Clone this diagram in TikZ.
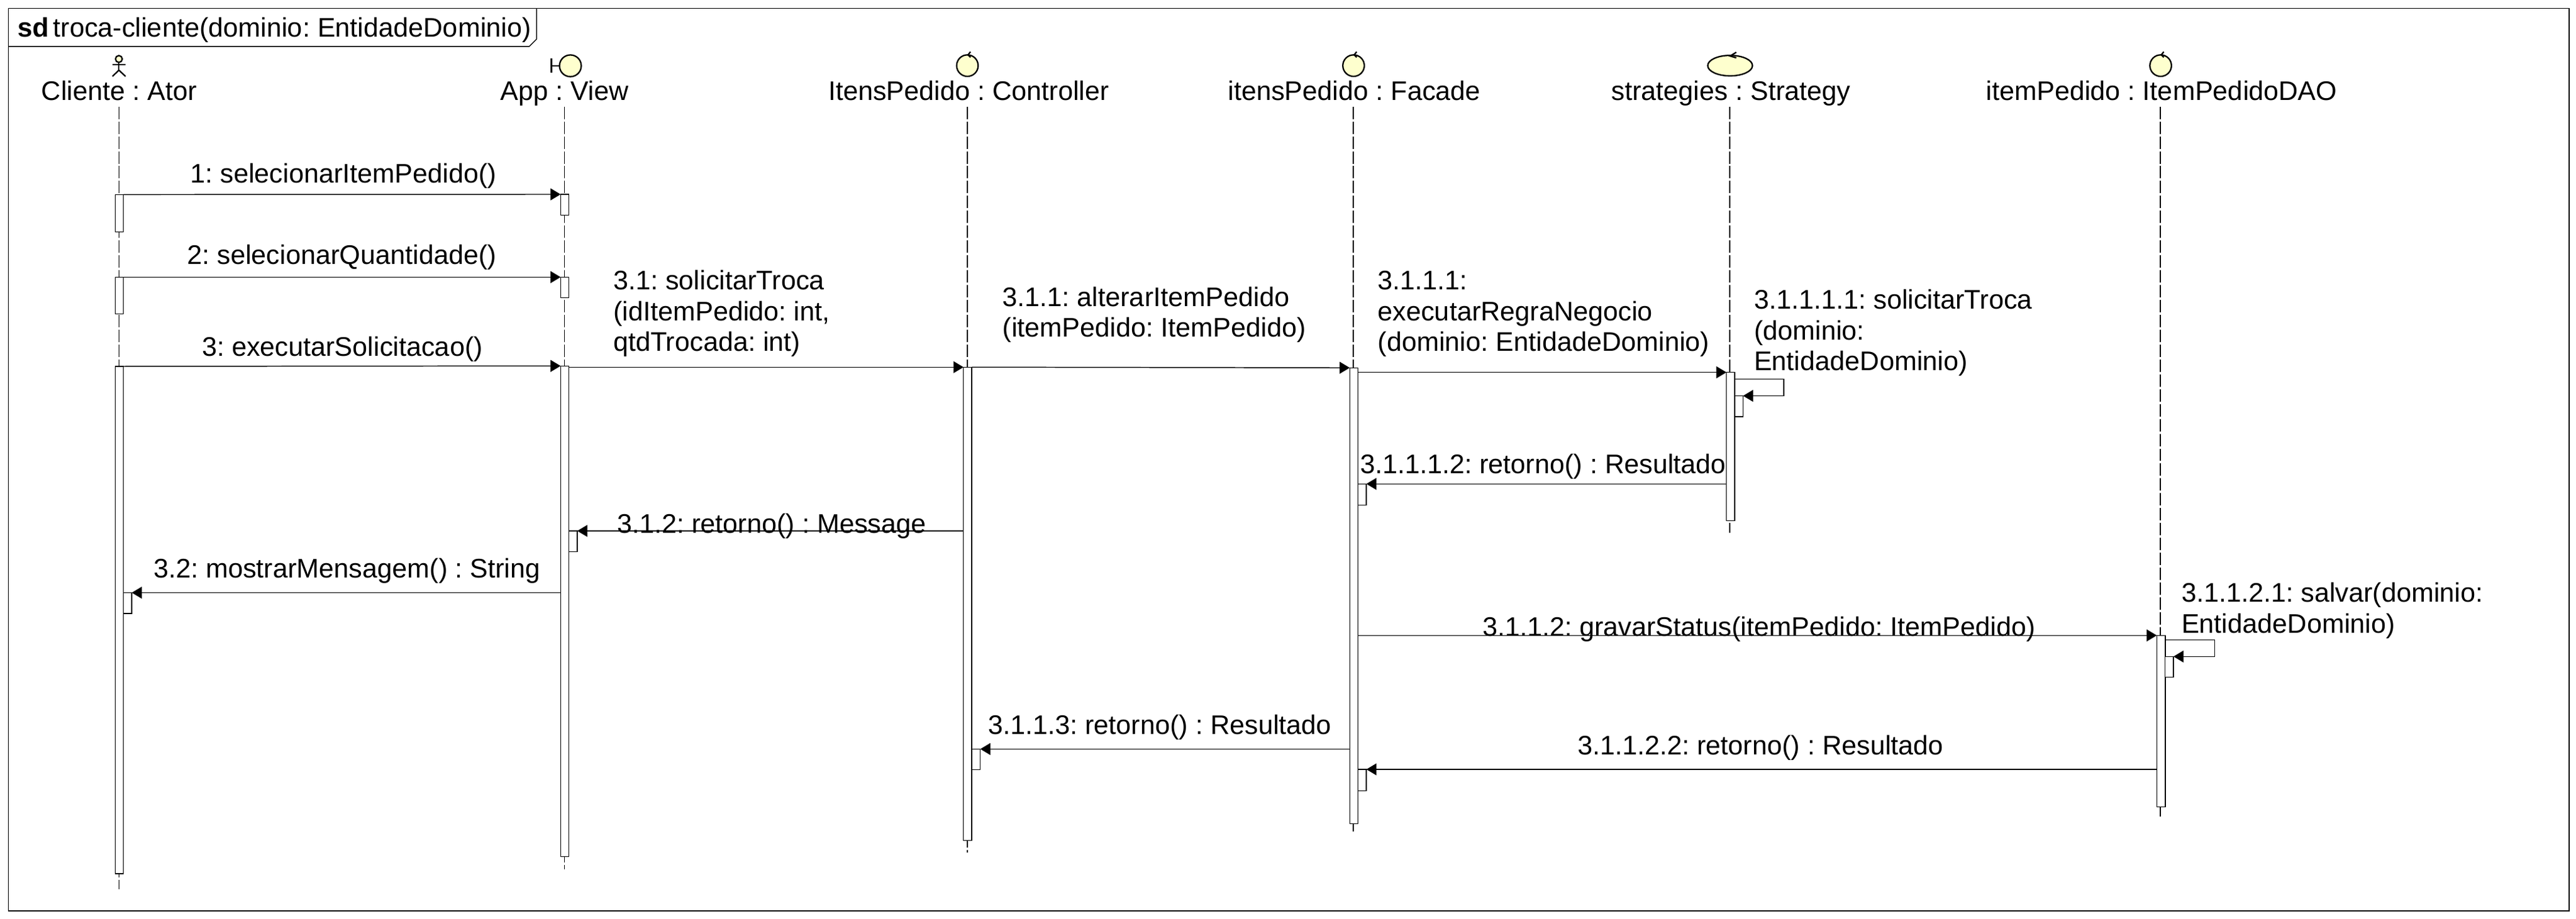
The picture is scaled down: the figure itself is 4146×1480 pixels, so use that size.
\documentclass[tikz,border=0pt]{standalone}
\usepackage{fontspec}
\setmainfont{Liberation Sans}
\usetikzlibrary{arrows.meta,calc,shapes.geometric}
\definecolor{iconfill}{HTML}{FEFFCE}
\tikzset{
  lbl/.style={anchor=base west,inner sep=0,outer sep=0,align=left,font=\fontsize{12.3}{14.1}\selectfont\frenchspacing},
  hdr/.style={anchor=base,inner sep=0,outer sep=0,font=\fontsize{12.3}{14.1}\selectfont\frenchspacing},
  bar/.style={draw,fill=white,anchor=north west,inner sep=0,outer sep=0,minimum width=0.134cm},
  lifeline/.style={line width=0.38pt,dash pattern=on 5.68pt off 1.13pt},
  msg/.style={line width=0.42pt,-{Triangle[length=4.6pt,width=5.4pt]}},
  icon/.style={draw,fill=iconfill,line width=0.65pt,inner sep=0,outer sep=0},
  iconline/.style={line width=0.65pt}
}
\begin{document}
\begin{tikzpicture}[x=0.01cm,y=-0.01cm,line width=0.42pt]
\useasboundingbox (0,0) rectangle (4146,1480);
% frame
\node[draw,anchor=north west,inner sep=0,outer sep=0,minimum width=41.192cm,minimum height=14.53cm] (frame) at (13.5,13.3) {};
\coordinate (tab1) at (13.5,75);
\coordinate (tab2) at (851.6,75);
\coordinate (tab3) at (863.6,63);
\coordinate (tab4) at (863.6,13.3);
\path[draw] (tab1) -- (tab2) -- (tab3) -- (tab4);
\node[lbl,font=\fontsize{12.3}{14.1}\selectfont\bfseries] (sd) at (28,59.3) {sd};
\node[lbl] (title) at (85.6,59.3) {troca-cliente(dominio: EntidadeDominio)};
% lifelines
\coordinate (ator top) at (191.5,171.7);
\coordinate (ator end) at (191.5,1431.7);
\coordinate (view top) at (908.5,171.7);
\coordinate (view end) at (908.5,1400);
\coordinate (ctrl top) at (1557,171.7);
\coordinate (ctrl end) at (1557,1372.7);
\coordinate (fac top) at (2178,171.7);
\coordinate (fac end) at (2178,1339.3);
\coordinate (strat top) at (2784,171.7);
\coordinate (strat end) at (2784,858);
\coordinate (dao top) at (3477,171.7);
\coordinate (dao end) at (3477,1315);
\path[draw,lifeline] (ator top) -- (ator end);
\path[draw,lifeline] (view top) -- (view end);
\path[draw,lifeline] (ctrl top) -- (ctrl end);
\path[draw,lifeline] (fac top) -- (fac end);
\path[draw,lifeline] (strat top) -- (strat end);
\path[draw,lifeline] (dao top) -- (dao end);
% actor
\node[icon,circle,minimum size=0.11cm] (head) at (191.3,95) {};
\coordinate (hip) at (191.3,113);
\coordinate (armL) at (181,104);
\coordinate (armR) at (202,104);
\coordinate (legL) at (181,123);
\coordinate (legR) at (202,123);
\path[draw,iconline] (head.south) -- (hip);
\path[draw,iconline] (armL) -- (armR);
\path[draw,iconline] (legL) -- (hip) -- (legR);
% boundary
\node[icon,circle,minimum size=0.35cm] (view) at (918,106) {};
\coordinate (wallT) at (887.4,94);
\coordinate (wallB) at (887.4,117);
\path[draw,iconline] (wallT) -- (wallB);
\path[draw,iconline] (wallT |- view.west) -- (view.west);
% controls
\node[icon,circle,minimum size=0.346cm] (ctrl) at (1557,105.7) {};
\node[icon,circle,minimum size=0.346cm] (fac) at (2178.5,105.7) {};
\node[icon,ellipse,minimum width=0.72cm,minimum height=0.33cm] (strat) at (2784.5,105.7) {};
\node[icon,circle,minimum size=0.346cm] (dao) at (3477.5,105.7) {};
\path[draw,iconline] ($(ctrl.north)+(5,-5)$) -- ($(ctrl.north)+(1,0)$) -- ($(ctrl.north)+(5,4)$);
\path[draw,iconline] ($(fac.north)+(5,-5)$) -- ($(fac.north)+(1,0)$) -- ($(fac.north)+(5,4)$);
\path[draw,iconline] ($(strat.north)+(10,-5)$) -- ($(strat.north)+(0,1)$) -- ($(strat.north)+(10,4)$);
\path[draw,iconline] ($(dao.north)+(5,-5)$) -- ($(dao.north)+(1,0)$) -- ($(dao.north)+(5,4)$);
% header labels
\node[hdr] (ator lbl) at (192,161.7) {Cliente : Ator};
\node[hdr] (view lbl) at (908.5,161.7) {App : View};
\node[hdr] (ctrl lbl) at (1559,161.7) {ItensPedido : Controller};
\node[hdr] (fac lbl) at (2179.7,161.7) {itensPedido : Facade};
\node[hdr] (strat lbl) at (2786,161.7) {strategies : Strategy};
\node[hdr] (dao lbl) at (3479,161.7) {itemPedido : ItemPedidoDAO};
% activation bars
\node[bar,minimum height=0.60cm] (a1) at (185.3,313.3) {};
\node[bar,minimum height=0.59cm] (a2) at (185.3,446.3) {};
\node[bar,minimum height=8.163cm] (a3) at (185.3,590) {};
\node[bar,minimum height=0.335cm] (a4) at (198.7,954.5) {};
\node[bar,minimum height=0.333cm] (v1) at (902.3,313) {};
\node[bar,minimum height=0.33cm] (v2) at (902.3,446.3) {};
\node[bar,minimum height=7.90cm] (v3) at (902.3,589.3) {};
\node[bar,minimum height=0.333cm] (v4) at (915.7,855) {};
\node[bar,minimum height=7.62cm] (c1) at (1550.7,591.3) {};
\node[bar,minimum height=0.33cm] (c2) at (1564.3,1206.3) {};
\node[bar,minimum height=7.34cm] (f1) at (2172.3,592.3) {};
\node[bar,minimum height=0.34cm] (f2) at (2185.7,779.3) {};
\node[bar,minimum height=0.343cm] (f3) at (2185.7,1239) {};
\node[bar,minimum height=2.39cm] (s1) at (2778.6,599.6) {};
\node[bar,minimum height=0.335cm] (s2) at (2792,637.5) {};
\node[bar,minimum height=2.76cm] (d1) at (3471.3,1023.3) {};
\node[bar,minimum height=0.33cm] (d2) at (3484.7,1057.3) {};
% self calls
\coordinate (sl1) at (2871,610.7);
\coordinate (sl2) at (2871,637.5);
\coordinate (dl1) at (3564.7,1030.3);
\coordinate (dl2) at (3564.7,1057.3);
% messages
\path[draw,msg] (a1.north east) -- (v1.north west);
\path[draw,msg] (a2.north east) -- (v2.north west);
\path[draw,msg] (a3.north east) -- (v3.north west);
\path[draw,msg] (v3.east |- c1.north) -- (c1.north west);
\path[draw,msg] (c1.north east) -- (f1.north west);
\path[draw,msg] (f1.east |- s1.north) -- (s1.north west);
\path[draw,msg] (s1.east |- sl1) -- (sl1) -- (sl2) -- (s2.north east);
\path[draw,msg] (s1.west |- f2.north) -- (f2.north east);
\path[draw,msg] (c1.west |- v4.north) -- (v4.north east);
\path[draw,msg] (v3.west |- a4.north) -- (a4.north east);
\path[draw,msg] (f1.east |- d1.north) -- (d1.north west);
\path[draw,msg] (d1.east |- dl1) -- (dl1) -- (dl2) -- (d2.north east);
\path[draw,msg] (d1.west |- f3.north) -- (f3.north east);
\path[draw,msg] (f1.west |- c2.north) -- (c2.north east);
% message labels
\node[lbl] (m1) at (306.6,295) {1: selecionarItemPedido()};
\node[lbl] (m2) at (301.6,426) {2: selecionarQuantidade()};
\node[lbl] (m3) at (325,574) {3: executarSolicitacao()};
\node[lbl] (m31) at (987,566) {3.1: solicitarTroca\\(idItemPedido: int,\\qtdTrocada: int)};
\node[lbl] (m311) at (1613.6,543) {3.1.1: alterarItemPedido\\(itemPedido: ItemPedido)};
\node[lbl] (m3111) at (2217.6,566) {3.1.1.1:\\executarRegraNegocio\\(dominio: EntidadeDominio)};
\node[lbl] (m31111) at (2823,597) {3.1.1.1.1: solicitarTroca\\(dominio:\\EntidadeDominio)};
\node[lbl] (m31112) at (2189,762.3) {3.1.1.1.2: retorno() : Resultado};
\node[lbl] (m312) at (993,858.3) {3.1.2: retorno() : Message};
\node[lbl] (m32) at (247,931) {3.2: mostrarMensagem() : String};
\node[lbl] (m3112) at (2386,1025) {3.1.1.2: gravarStatus(itemPedido: ItemPedido)};
\node[lbl] (m31121) at (3511,1019.3) {3.1.1.2.1: salvar(dominio:\\EntidadeDominio)};
\node[lbl] (m31122) at (2539,1215) {3.1.1.2.2: retorno() : Resultado};
\node[lbl] (m3113) at (1590,1182.3) {3.1.1.3: retorno() : Resultado};
\end{tikzpicture}
\end{document}
